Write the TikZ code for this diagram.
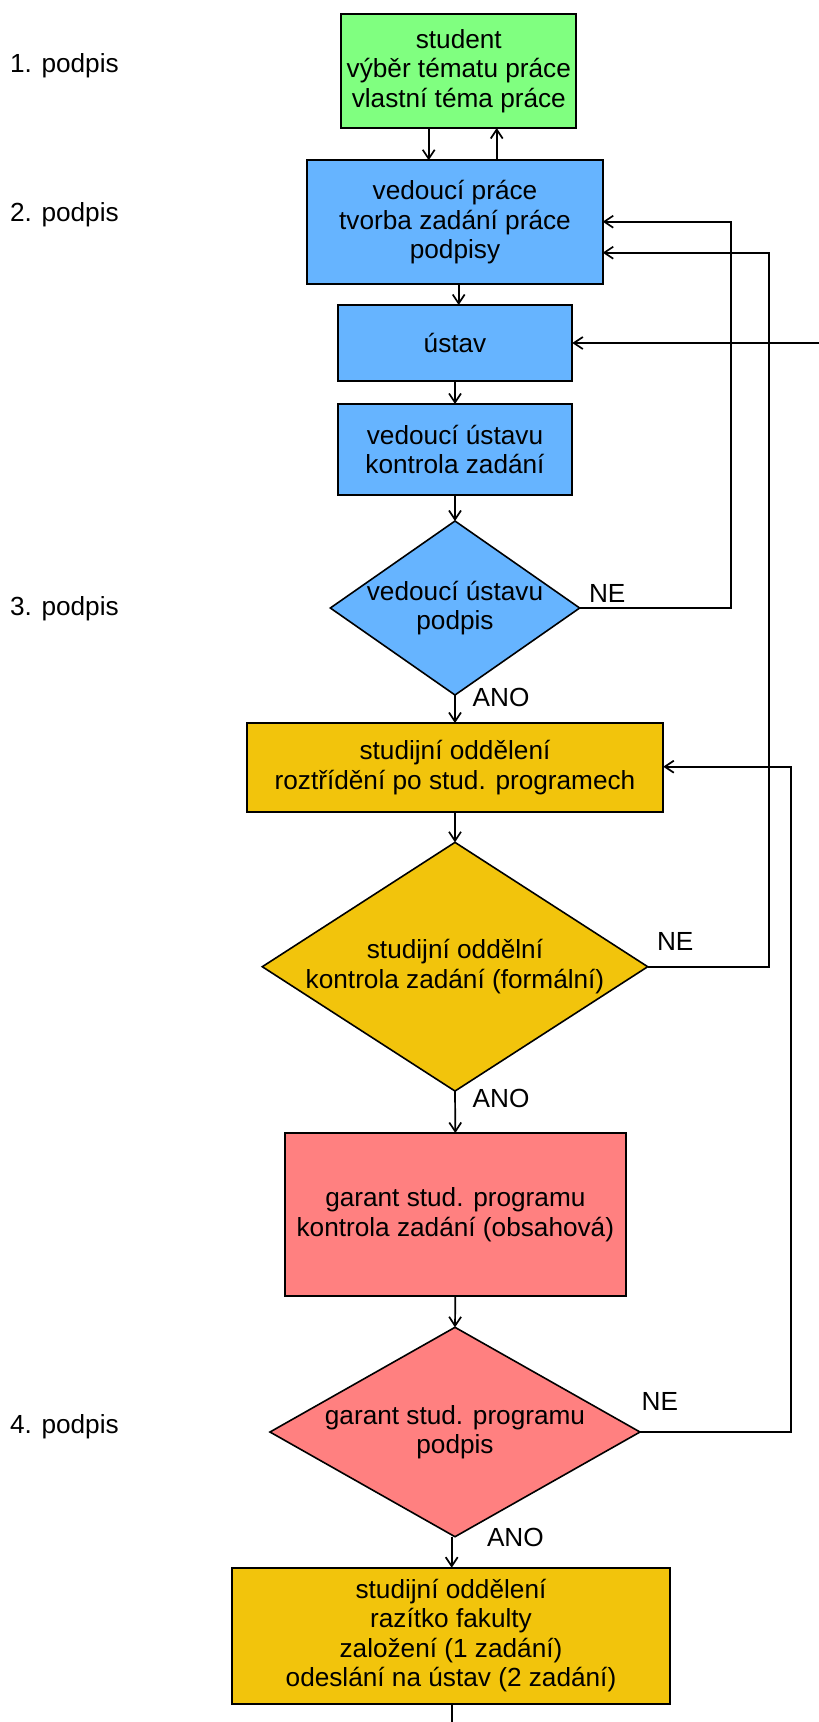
\documentclass[tikz,border=0pt]{standalone}
\usepackage{fontspec}
\setmainfont{Liberation Sans}
\usetikzlibrary{shapes.geometric,arrows.meta}
\definecolor{cgreen}{RGB}{128,255,128}
\definecolor{cblue}{RGB}{102,180,255}
\definecolor{cgold}{RGB}{242,196,12}
\definecolor{cred}{RGB}{255,128,128}
\tikzset{
  boxnode/.style={draw=black, line width=1.7pt, rectangle, inner sep=0pt, outer sep=0pt, align=center},
  dianode/.style={draw=black, line width=1.6pt, diamond, inner sep=0pt, outer sep=0pt},
  txtnode/.style={inner sep=0pt, outer sep=0pt, align=center},
  arr/.style={line width=1.7pt, -{Straight Barb[length=9pt,width=12pt,line width=1.7pt]}},
  plainline/.style={line width=1.7pt}
}
\begin{document}
\begin{tikzpicture}[x=1pt,y=-1pt,font=\fontsize{26.2}{29.5}\selectfont]
\useasboundingbox (0,0) rectangle (819,1722);
\fill[white] (0,0) rectangle (819,1722);

% boxes
\node[boxnode, fill=cgreen, minimum width=235pt, minimum height=114pt] (stud) at (458.8,71) {student\\výběr tématu práce\\vlastní téma práce};
\node[boxnode, fill=cblue, minimum width=295.4pt, minimum height=124pt] (ved) at (455,222.3) {vedoucí práce\\tvorba zadání práce\\podpisy};
\node[boxnode, fill=cblue, minimum width=234.6pt, minimum height=75.7pt] (ust) at (455,342.85) {ústav};
\node[boxnode, fill=cblue, minimum width=234.6pt, minimum height=91pt] (vu) at (455,449.5) {vedoucí ústavu\\kontrola zadání};
\node[dianode, fill=cblue, minimum width=249.3pt, minimum height=174pt] (d1) at (455,608) {};
\node[txtnode] (d1t) at (d1.center) {vedoucí ústavu\\podpis};
\node[boxnode, fill=cgold, minimum width=416.6pt, minimum height=89.3pt] (so) at (455,767.65) {studijní oddělení\\roztřídění po stud. programech};
\node[dianode, fill=cgold, minimum width=385.4pt, minimum height=248.7pt] (d2) at (455,966.7) {};
\node[txtnode] (d2t) at (d2.center) {studijní oddělní\\kontrola zadání (formální)};
\node[boxnode, fill=cred, minimum width=340.7pt, minimum height=163pt] (gar) at (455.35,1214.5) {garant stud. programu\\kontrola zadání (obsahová)};
\node[dianode, fill=cred, minimum width=370pt, minimum height=209.4pt] (d3) at (455,1432) {};
\node[txtnode] (d3t) at (d3.center) {garant stud. programu\\podpis};
\node[boxnode, fill=cgold, minimum width=438.6pt, minimum height=136pt] (fin) at (451,1635.7) {studijní oddělení\\razítko fakulty\\založení (1 zadání)\\odeslání na ústav (2 zadání)};

% side labels
\node[txtnode, anchor=west] (p1) at (10,66) {1. podpis};
\node[txtnode, anchor=west] (p2) at (10,215) {2. podpis};
\node[txtnode, anchor=west] (p3) at (10,609) {3. podpis};
\node[txtnode, anchor=west] (p4) at (10,1427) {4. podpis};

% branch labels
\node[txtnode, anchor=west] (ne1) at (589,593) {NE};
\node[txtnode, anchor=west] (ne2) at (657,941) {NE};
\node[txtnode, anchor=west] (ne3) at (641.7,1401.7) {NE};
\node[txtnode, anchor=west] (ano1) at (472.7,697) {ANO};
\node[txtnode, anchor=west] (ano2) at (472.7,1098) {ANO};
\node[txtnode, anchor=west] (ano3) at (487,1537) {ANO};

% helper coordinates
\coordinate (xdn) at (428.7,0);
\coordinate (xup) at (496.7,0);
\coordinate (xv) at (458.7,0);
\coordinate (xne1) at (731.3,0);
\coordinate (xne2) at (769,0);
\coordinate (xne3) at (791.3,0);
\coordinate (vin1) at (0,221.7);
\coordinate (vin2) at (0,252.7);
\coordinate (sin) at (0,766.7);
\coordinate (uin) at (819,343);
\coordinate (xf) at (451.7,0);
\coordinate (bot) at (451.7,1722);

% connectors
\draw[arr] (stud.south -| xdn) -- (ved.north -| xdn);
\draw[arr] (ved.north -| xup) -- (stud.south -| xup);
\draw[arr] (ved.south -| xv) -- (ust.north -| xv);
\draw[arr] (uin) -- (ust.east |- uin);
\draw[arr] (ust.south) -- (vu.north);
\draw[arr] (vu.south) -- (d1.north);
\draw[arr] (d1.east) -- (d1.east -| xne1) -- (xne1 |- vin1) -- (ved.east |- vin1);
\draw[arr] (d1.south) -- (so.north);
\draw[arr] (so.south) -- (d2.north);
\draw[arr] (d2.east) -- (d2.east -| xne2) -- (xne2 |- vin2) -- (ved.east |- vin2);
\draw[arr] (d2.south) -- (gar.north);
\draw[arr] (gar.south) -- (d3.north);
\draw[arr] (d3.east) -- (d3.east -| xne3) -- (xne3 |- sin) -- (so.east |- sin);
\draw[arr] (d3.south -| xf) -- (fin.north -| xf);
\draw[plainline] (fin.south -| xf) -- (bot);
\end{tikzpicture}
\end{document}
